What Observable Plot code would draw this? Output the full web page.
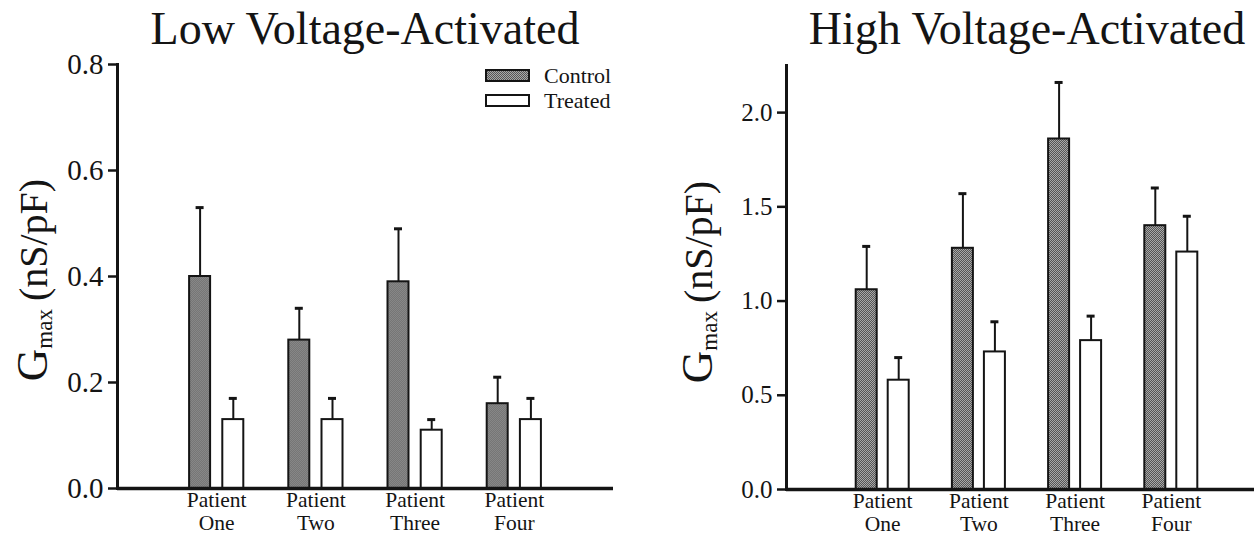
<!DOCTYPE html>
<html>
<head>
<meta charset="utf-8">
<script src="https://cdn.jsdelivr.net/npm/d3@7"></script>
<script src="https://cdn.jsdelivr.net/npm/@observablehq/plot@0.6"></script>
<style>
  html, body { margin: 0; padding: 0; background: #fff; }
  #wrap { position: relative; width: 1254px; height: 535px; overflow: hidden; background: #fff;
          font-family: "Liberation Serif", "Times New Roman", serif; color: #141414; }
  .panel { position: absolute; top: 0; }
  .panel text, .panel tspan { font-family: "Liberation Serif", "Times New Roman", serif !important; }
  .title { position: absolute; top: 6px; font-size: 46px; line-height: 46px; white-space: nowrap;
           transform: translateX(-50%); }
  .ylab { position: absolute; white-space: nowrap; line-height: 50px; height: 50px;
          transform: translate(-50%, -50%) rotate(-90deg); }
  .ylab .g { font-size: 45px; }
  .ylab .sub { font-size: 23px; position: relative; top: 5px; }
  .ylab .u { font-size: 40px; }
  .legend { position: absolute; left: 485px; top: 63px; font-size: 22px; }
  .legend .row { display: flex; align-items: center; height: 25px; }
  .legend svg { margin-right: 13px; }
</style>
</head>
<body>
<svg width="0" height="0" style="position:absolute">
  <defs>
    <pattern id="stip" width="2" height="2" patternUnits="userSpaceOnUse">
      <rect width="2" height="2" fill="#a8a8a8"></rect>
      <rect width="1" height="1" fill="#555"></rect>
      <rect x="1" y="1" width="1" height="1" fill="#555"></rect>
    </pattern>
  </defs>
</svg>
<div id="wrap"></div>
<script>
// ---- data ----
const patients = ["Patient\nOne", "Patient\nTwo", "Patient\nThree", "Patient\nFour"];
const series = ["Control", "Treated"];

const lvaControl    = [0.40, 0.28, 0.39, 0.16];
const lvaControlErr = [0.13, 0.06, 0.10, 0.05];
const lvaTreated    = [0.13, 0.13, 0.11, 0.13];
const lvaTreatedErr = [0.04, 0.04, 0.02, 0.04];

const hvaControl    = [1.06, 1.28, 1.86, 1.40];
const hvaControlErr = [0.23, 0.29, 0.30, 0.20];
const hvaTreated    = [0.58, 0.73, 0.79, 1.26];
const hvaTreatedErr = [0.12, 0.16, 0.13, 0.19];

const lvaTicks = [0, 0.2, 0.4, 0.6, 0.8];
const hvaTicks = [0, 0.5, 1.0, 1.5, 2.0];

const titles = ["Low Voltage-Activated", "High Voltage-Activated"];

const SERIF = "'Liberation Serif', 'Times New Roman', serif";

function rows(ctrl, ctrlErr, trt, trtErr) {
  const out = [];
  patients.forEach((p, i) => {
    out.push({patient: p, series: series[0], value: ctrl[i], top: ctrl[i] + ctrlErr[i]});
    out.push({patient: p, series: series[1], value: trt[i], top: trt[i] + trtErr[i]});
  });
  return out;
}

function panel({data, yDomain, ticks, width, height, ml, mr, mt, mb, tickFont, offset}) {
  const step = (width - ml - mr) / 5;
  const barW = 21;
  const barInset = (step - barW) / 2;
  const capInset = (step - 8) / 2;
  const marks = [];
  series.forEach((s, k) => {
    const d = data.filter(r => r.series === s);
    const dx = k === 0 ? -offset : offset;
    marks.push(Plot.ruleX(d, {x: "patient", y1: "value", y2: "top", dx, stroke: "#141414", strokeWidth: 2}));
    marks.push(Plot.tickY(d, {x: "patient", y: "top", dx, insetLeft: capInset, insetRight: capInset, stroke: "#141414", strokeWidth: 3}));
    marks.push(Plot.barY(d, {x: "patient", y: "value", dx, insetLeft: barInset, insetRight: barInset,
      fill: s === "Control" ? "url(#stip)" : "#fff", stroke: "#141414", strokeWidth: 2}));
  });
  marks.push(Plot.ruleY([0], {stroke: "#141414", strokeWidth: 3.5}));
  marks.push(Plot.frame({anchor: "left", stroke: "#141414", strokeWidth: 3}));
  marks.push(Plot.axisY({ticks, tickFormat: d3.format(".1f"), tickSize: 9, tickPadding: 5,
    fontSize: tickFont, fontFamily: SERIF, strokeWidth: 2.5, stroke: "#141414", fill: "#141414", label: null}));
  marks.push(Plot.axisX({tickSize: 0, tickPadding: 3, fontSize: 21.5, fontFamily: SERIF, lineHeight: 1.04,
    fill: "#141414", label: null}));
  const svg = Plot.plot({
    width, height,
    marginLeft: ml, marginRight: mr, marginTop: mt, marginBottom: mb,
    style: {fontFamily: SERIF, background: "transparent", color: "#141414", overflow: "visible"},
    x: {type: "band", domain: patients, paddingInner: 0, paddingOuter: 0.5, round: false},
    y: {domain: yDomain},
    marks
  });
  svg.setAttribute("font-family", SERIF);
  svg.querySelectorAll("g, text, tspan").forEach(el => {
    if (el.hasAttribute("font-family")) el.setAttribute("font-family", SERIF);
  });
  svg.querySelectorAll("text, tspan").forEach(el => { el.style.fontFamily = SERIF; });
  return svg;
}

const wrap = document.getElementById("wrap");

const left = panel({data: rows(lvaControl, lvaControlErr, lvaTreated, lvaTreatedErr),
  yDomain: [0, 0.8], ticks: lvaTicks, width: 627, height: 535, ml: 117, mr: 14, mt: 64, mb: 47, tickFont: 29, offset: 16.6});
left.classList.add("panel"); left.style.left = "0px";
wrap.appendChild(left);

const right = panel({data: rows(hvaControl, hvaControlErr, hvaTreated, hvaTreatedErr),
  yDomain: [0, 2.25], ticks: hvaTicks, width: 654, height: 535, ml: 159, mr: 14, mt: 65, mb: 46, tickFont: 25, offset: 16});
right.classList.add("panel"); right.style.left = "627px";
wrap.appendChild(right);

// titles
[[titles[0], 365], [titles[1], 1027]].forEach(([t, cx]) => {
  const el = document.createElement("div");
  el.className = "title"; el.textContent = t; el.style.left = cx + "px";
  wrap.appendChild(el);
});

// y-axis labels
[[32, 280], [697, 282]].forEach(([cx, cy]) => {
  const el = document.createElement("div");
  el.className = "ylab";
  el.innerHTML = '<span class="g">G</span><span class="sub">max</span><span class="u">&#8201;(nS/pF)</span>';
  el.style.left = cx + "px"; el.style.top = cy + "px";
  wrap.appendChild(el);
});

// legend
const lg = document.createElement("div");
lg.className = "legend";
series.forEach(s => {
  const row = document.createElement("div");
  row.className = "row";
  row.innerHTML = `<svg width="46" height="14"><rect x="1" y="1" width="43" height="11" fill="${s === "Control" ? "url(#stip)" : "#fff"}" stroke="#141414" stroke-width="2"></rect></svg><span>${s}</span>`;
  lg.appendChild(row);
});
wrap.appendChild(lg);
</script>
</body>
</html>
